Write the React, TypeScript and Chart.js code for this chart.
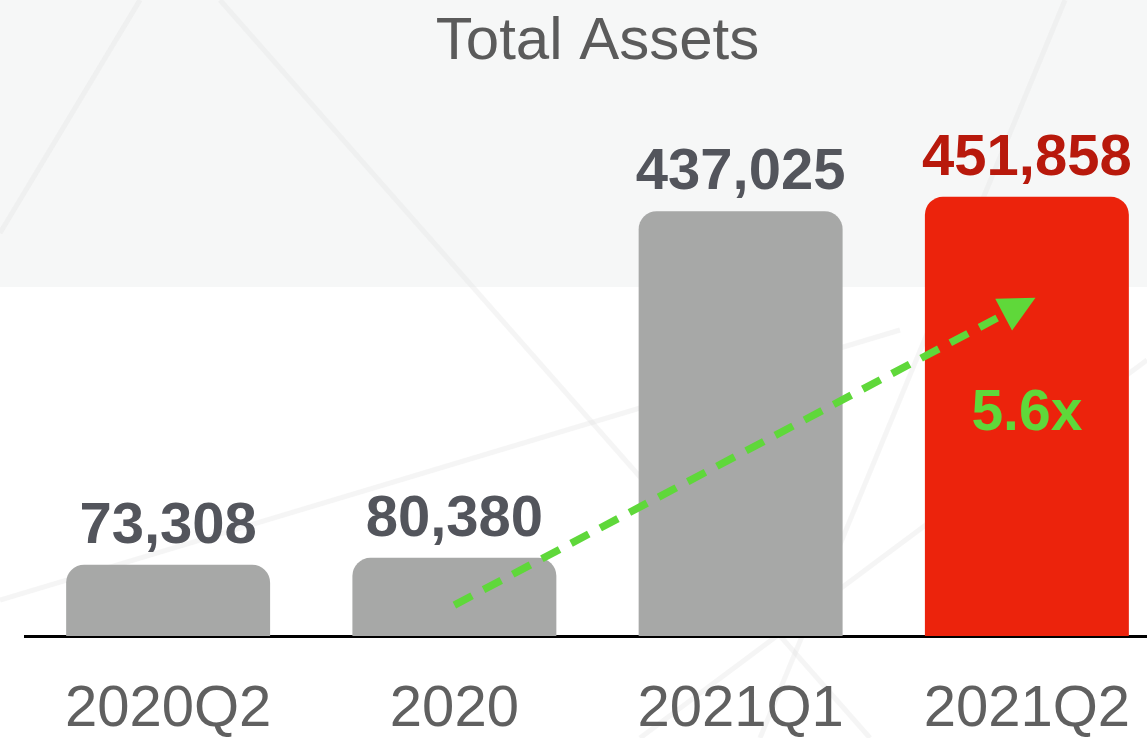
import React, { useEffect, useRef } from "react";
import { Chart, registerables } from "chart.js";

Chart.register(...registerables);

// ---- data ----
const categories = ["2020Q2", "2020", "2021Q1", "2021Q2"];
const totalAssets = [73308, 80380, 437025, 451858];
const barColors = ["#a7a8a7", "#a7a8a7", "#a7a8a7", "#ec230c"];
const valueLabelColors = ["#53555c", "#53555c", "#53555c", "#b8190c"];
const chartTitle = "Total Assets";
const growthLabel = "5.6x";
const arrowFrom = { index: 1, value: 31800 };
const arrowTo = { index: 3.03, value: 348000 };
const growthLabelAt = { index: 3, value: 228000 };

const FONT = "'Liberation Sans', Arial, Helvetica, sans-serif";

const backgroundPlugin = {
  id: "bgPanel",
  beforeDraw(chart: any) {
    const { ctx, width, height } = chart;
    ctx.save();
    ctx.fillStyle = "#ffffff";
    ctx.fillRect(0, 0, width, height);
    ctx.fillStyle = "#f6f7f7";
    ctx.fillRect(0, 0, width, 287);
    // faint decorative diagonal strokes
    ctx.strokeStyle = "rgba(225,225,225,0.35)";
    ctx.lineWidth = 5;
    const strokes = [
      [140, 0, 0, 233],
      [220, 0, 870, 738],
      [1065, 0, 760, 738],
      [0, 600, 900, 330],
      [640, 738, 1147, 360],
    ];
    strokes.forEach(([x1, y1, x2, y2]) => {
      ctx.beginPath();
      ctx.moveTo(x1, y1);
      ctx.lineTo(x2, y2);
      ctx.stroke();
    });
    ctx.restore();
  },
};

const annotationPlugin = {
  id: "annotations",
  afterDatasetsDraw(chart: any) {
    const { ctx, scales } = chart;
    const meta = chart.getDatasetMeta(0);
    ctx.save();
    // value labels
    ctx.font = `bold 58px ${FONT}`;
    ctx.textAlign = "center";
    ctx.textBaseline = "alphabetic";
    meta.data.forEach((el: any, i: number) => {
      ctx.fillStyle = valueLabelColors[i];
      ctx.fillText(totalAssets[i].toLocaleString("en-US"), el.x, el.y - 22);
    });

    // growth arrow
    const x1 = scales.x.getPixelForValue(arrowFrom.index);
    const y1 = scales.y.getPixelForValue(arrowFrom.value);
    const x2 = scales.x.getPixelForValue(arrowTo.index);
    const y2 = scales.y.getPixelForValue(arrowTo.value);
    const ang = Math.atan2(y2 - y1, x2 - x1);
    const headLen = 36;
    const headHalf = 18;
    const bx = x2 - Math.cos(ang) * headLen;
    const by = y2 - Math.sin(ang) * headLen;
    const green = "#5fd83a";
    ctx.strokeStyle = green;
    ctx.lineWidth = 7.5;
    ctx.setLineDash([20, 13]);
    ctx.beginPath();
    ctx.moveTo(x1, y1);
    ctx.lineTo(bx, by);
    ctx.stroke();
    ctx.setLineDash([]);
    ctx.fillStyle = green;
    ctx.beginPath();
    ctx.moveTo(x2, y2);
    ctx.lineTo(bx + Math.sin(ang) * headHalf, by - Math.cos(ang) * headHalf);
    ctx.lineTo(bx - Math.sin(ang) * headHalf, by + Math.cos(ang) * headHalf);
    ctx.closePath();
    ctx.fill();

    // growth label
    ctx.font = `bold 57px ${FONT}`;
    ctx.textBaseline = "middle";
    ctx.fillText(
      growthLabel,
      scales.x.getPixelForValue(growthLabelAt.index),
      scales.y.getPixelForValue(growthLabelAt.value)
    );
    ctx.restore();
  },
};

export default function App() {
  const canvasRef = useRef<HTMLCanvasElement | null>(null);

  useEffect(() => {
    if (!canvasRef.current) return;
    const chart = new Chart(canvasRef.current, {
      type: "bar",
      data: {
        labels: categories,
        datasets: [
          {
            data: totalAssets,
            backgroundColor: barColors,
            borderWidth: 0,
            borderSkipped: "bottom",
            borderRadius: { topLeft: 18, topRight: 18, bottomLeft: 0, bottomRight: 0 },
            barPercentage: 0.7125,
            categoryPercentage: 1,
          },
        ],
      },
      options: {
        responsive: false,
        animation: false,
        devicePixelRatio: 1,
        layout: { padding: { left: 25, right: 25, top: 0, bottom: -46 } },
        plugins: {
          legend: { display: false },
          tooltip: { enabled: false },
          title: {
            display: true,
            text: chartTitle,
            color: "#5b5b5b",
            font: { family: FONT, size: 60, weight: "normal", lineHeight: 1.2 },
            padding: { top: 6, bottom: 72 },
          },
        },
        scales: {
          x: {
            grid: { display: false, drawTicks: false },
            border: { display: true, color: "#000000", width: 3 },
            ticks: {
              color: "#606060",
              font: { family: FONT, size: 58, lineHeight: 1 },
              padding: 45,
            },
          },
          y: {
            display: false,
            min: 0,
            max: 500000,
          },
        },
      },
      plugins: [backgroundPlugin, annotationPlugin],
    });
    return () => chart.destroy();
  }, []);

  return (
    <div
      style={{
        position: "fixed",
        left: 0,
        top: 0,
        width: 1147,
        height: 738,
        overflow: "hidden",
        background: "#fff",
      }}
    >
      <canvas ref={canvasRef} width={1195} height={738} style={{ display: "block" }} />
    </div>
  );
}
